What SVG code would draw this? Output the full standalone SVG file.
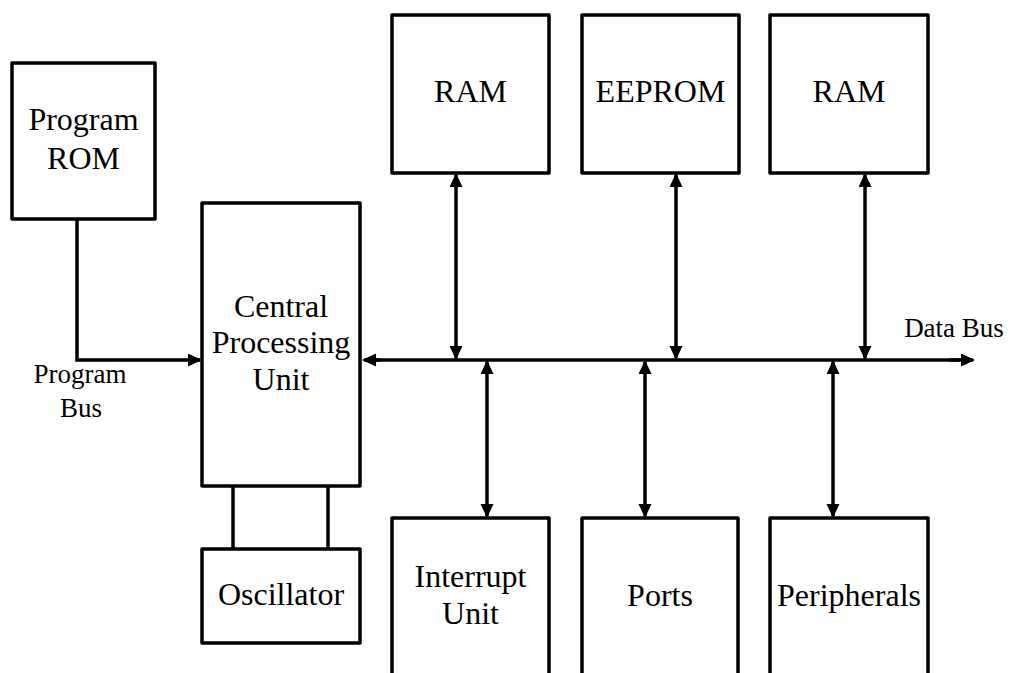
<svg xmlns="http://www.w3.org/2000/svg" width="1017" height="673" viewBox="0 0 1017 673">
  <style>
    .box { fill: #ffffff; stroke: #000000; stroke-width: 3.5; stroke-linejoin: round; }
    .wire { fill: none; stroke: #000000; stroke-width: 3.5; }
    .arrow { fill: none; stroke: #000000; stroke-width: 3.5; marker-end: url(#head); }
    .arrow2 { fill: none; stroke: #000000; stroke-width: 3.5; marker-start: url(#head); marker-end: url(#head); }
    .lbl { font-family: "Liberation Serif", "Times New Roman", serif; font-size: 32px; fill: #000000; text-anchor: middle; }
    .bus { font-family: "Liberation Serif", "Times New Roman", serif; font-size: 27px; fill: #000000; text-anchor: middle; }
  </style>
  <defs>
    <marker id="head" markerUnits="userSpaceOnUse" markerWidth="16" markerHeight="14" refX="12" refY="6.5" orient="auto-start-reverse">
      <path d="M0,0 L14,6.5 L0,13 z" fill="#000000"/>
    </marker>
  </defs>
  <rect width="1017" height="673" fill="#ffffff"/>

  <!-- buses and links -->
  <g id="connectors">
    <!-- program bus: ROM to CPU -->
    <polyline class="arrow" points="77,219 77,360 200,360"/>
    <!-- data bus -->
    <line class="wire" x1="370" y1="360" x2="960" y2="360"/>
    <line class="arrow" x1="380" y1="360" x2="364" y2="360"/>
    <line class="arrow" x1="950" y1="360" x2="973" y2="360"/>
    <!-- memories above the bus -->
    <line class="arrow2" x1="456" y1="175" x2="456" y2="358"/>
    <line class="arrow2" x1="676" y1="175" x2="676" y2="358"/>
    <line class="arrow2" x1="865" y1="175" x2="865" y2="358"/>
    <!-- devices below the bus -->
    <line class="arrow2" x1="487" y1="362" x2="487" y2="516"/>
    <line class="arrow2" x1="645" y1="362" x2="645" y2="516"/>
    <line class="arrow2" x1="833" y1="362" x2="833" y2="516"/>
    <!-- oscillator to CPU -->
    <line class="wire" x1="233" y1="486" x2="233" y2="549"/>
    <line class="wire" x1="328" y1="486" x2="328" y2="549"/>
    <!-- bus labels -->
    <text class="bus" x="80" y="383">Program</text>
    <text class="bus" x="81" y="417">Bus</text>
    <text class="bus" x="954" y="337">Data Bus</text>
  </g>

  <g id="program-rom">
    <rect class="box" x="12" y="63" width="143" height="156"/>
    <text class="lbl" x="83.5" y="130">Program</text>
    <text class="lbl" x="83.5" y="169">ROM</text>
  </g>

  <g id="cpu">
    <rect class="box" x="202" y="203" width="158" height="283"/>
    <text class="lbl" x="281" y="317">Central</text>
    <text class="lbl" x="281" y="353">Processing</text>
    <text class="lbl" x="281" y="390">Unit</text>
  </g>

  <g id="oscillator">
    <rect class="box" x="202" y="549" width="158" height="94"/>
    <text class="lbl" x="281" y="605">Oscillator</text>
  </g>

  <g id="ram-1">
    <rect class="box" x="392" y="15" width="157" height="158"/>
    <text class="lbl" x="470.5" y="102">RAM</text>
  </g>

  <g id="eeprom">
    <rect class="box" x="582" y="15" width="157" height="158"/>
    <text class="lbl" x="660.5" y="102">EEPROM</text>
  </g>

  <g id="ram-2">
    <rect class="box" x="770" y="15" width="158" height="158"/>
    <text class="lbl" x="849" y="102">RAM</text>
  </g>

  <g id="interrupt-unit">
    <rect class="box" x="392" y="518" width="157" height="170"/>
    <text class="lbl" x="470.5" y="587">Interrupt</text>
    <text class="lbl" x="470.5" y="624">Unit</text>
  </g>

  <g id="ports">
    <rect class="box" x="582" y="518" width="156" height="170"/>
    <text class="lbl" x="660" y="606">Ports</text>
  </g>

  <g id="peripherals">
    <rect class="box" x="770" y="518" width="158" height="170"/>
    <text class="lbl" x="849" y="606">Peripherals</text>
  </g>
</svg>
